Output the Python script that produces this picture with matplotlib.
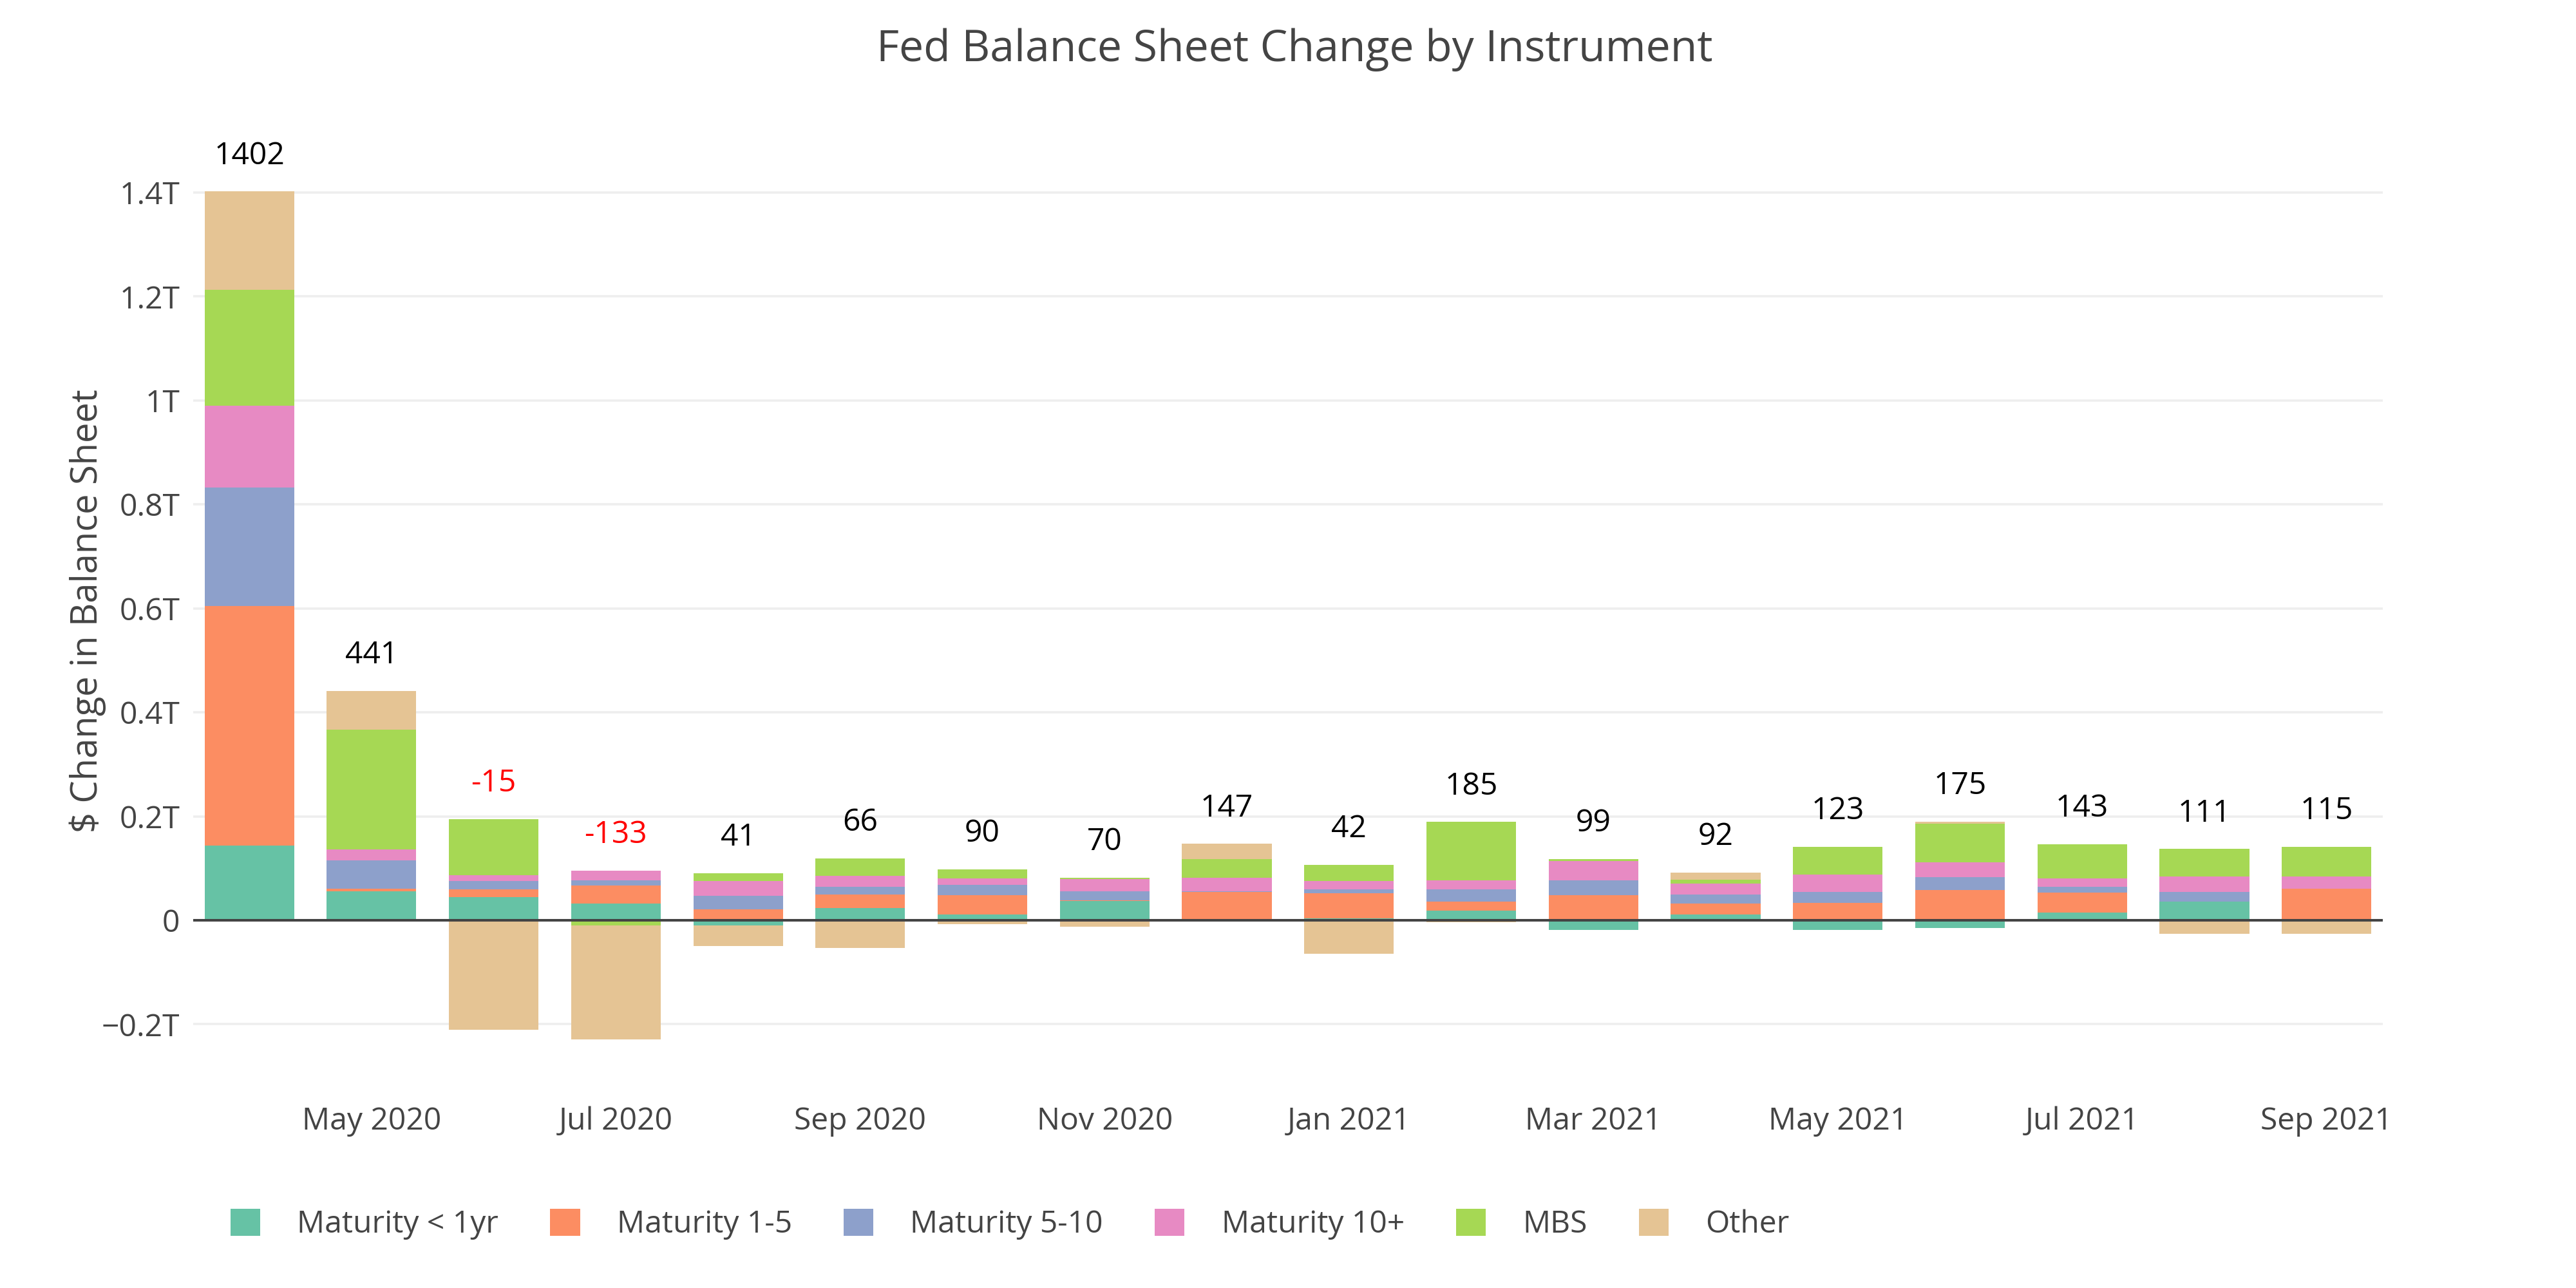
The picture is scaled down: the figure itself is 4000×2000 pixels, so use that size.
#!/usr/bin/env python
"""
Fed balance sheet change by instrument, stacked monthly bars
"""
import matplotlib
matplotlib.use("Agg")
import matplotlib.pyplot as plt
from matplotlib.patches import Patch
from matplotlib.ticker import FuncFormatter
import numpy as np

# monthly change, $ billions
months = ["Apr 2020", "May 2020", "Jun 2020", "Jul 2020", "Aug 2020", "Sep 2020",
          "Oct 2020", "Nov 2020", "Dec 2020", "Jan 2021", "Feb 2021", "Mar 2021",
          "Apr 2021", "May 2021", "Jun 2021", "Jul 2021", "Aug 2021", "Sep 2021"]

mat_lt1 = [144, 56, 44, 32, -10, 24, 11, 37, 1, 4, 19, -18, 11, -18, -15, 15, 36, 1]
mat_1_5 = [460, 5, 15, 35, 21, 25, 37, 2, 54, 48, 17, 48, 21, 34, 58, 38, -1, 60]
mat_5_10 = [229, 54, 16, 10, 26, 16, 20, 17, 1, 7, 24, 29, 17, 21, 25, 11, 19, 0]
mat_10p = [157, 21, 12, 19, 28, 21, 13, 23, 26, 17, 17, 37, 22, 33, 28, 17, 29, 23]
mbs = [223, 231, 108, -10, 16, 33, 17, 3, 36, 31, 112, 4, 7, 53, 75, 65, 53, 57]
other = [189, 74, -210, -219, -40, -53, -8, -12, 29, -65, -4, -1, 14, 0, 4, -3, -25, -26]

series_names = ["Maturity < 1yr", "Maturity 1-5", "Maturity 5-10", "Maturity 10+", "MBS", "Other"]
series_vals = [mat_lt1, mat_1_5, mat_5_10, mat_10p, mbs, other]
colors = ["#66c2a5", "#fc8d62", "#8da0cb", "#e78ac3", "#a6d854", "#e5c494"]

plt.rcParams["font.family"] = ["Open Sans", "DejaVu Sans"]
TXT = "#444444"

fig = plt.figure(figsize=(40, 20), dpi=100)
ax = fig.add_axes([0.075, 0.1511, 0.85, 0.7402])

x = np.arange(len(months))
pos = np.zeros(len(months))
neg = np.zeros(len(months))
for name, vals, c in zip(series_names, series_vals, colors):
    v = np.array(vals, dtype=float)
    bottom = np.where(v >= 0, pos, neg)
    ax.bar(x, v, bottom=bottom, width=0.733, color=c, linewidth=0, zorder=2)
    pos = pos + np.clip(v, 0, None)
    neg = neg + np.clip(v, None, 0)

# net change label above the positive part of each stack
totals = np.sum(np.array(series_vals), axis=0)
for i, t in enumerate(totals):
    ax.annotate(f"{int(t)}", (x[i], pos[i]), xytext=(0, 40), textcoords="offset points",
                ha="center", va="center", fontsize=34.6,
                color="black" if t >= 0 else "#ff0000")

ax.axhline(0, color=TXT, linewidth=2.9, zorder=3)

ax.set_xlim(-0.459, len(months) - 0.54)
ax.set_ylim(-333, 1501)
ax.set_yticks([-200, 0, 200, 400, 600, 800, 1000, 1200, 1400])


def fmt_t(v, _):
    if v == 0:
        return "0"
    s = f"{v / 1000:g}T"
    return s.replace("-", "\u2212")


ax.yaxis.set_major_formatter(FuncFormatter(fmt_t))
ax.set_xticks(x[1::2])
ax.set_xticklabels(months[1::2])
ax.tick_params(axis="both", length=0, labelsize=34.6, labelcolor=TXT)
ax.tick_params(axis="x", pad=14)
ax.tick_params(axis="y", pad=15)
ax.grid(axis="y", color="#eeeeee", linewidth=2.6, zorder=0)
ax.set_axisbelow(True)
for s in ax.spines.values():
    s.set_visible(False)

fig.text(0.5026, 0.9615, "Fed Balance Sheet Change by Instrument", ha="center", va="center",
         fontsize=49, color=TXT)
fig.text(0.034, 0.5255, "$ Change in Balance Sheet", ha="center", va="center",
         rotation=90, fontsize=40.3, color=TXT)

handles = [Patch(facecolor=c, edgecolor="none") for c in colors]
fig.legend(handles, series_names, loc="center left", bbox_to_anchor=(0.0895, 0.0495),
           ncol=6, frameon=False, fontsize=34.6, handlelength=0.96, handleheight=0.98,
           handletextpad=1.19, columnspacing=1.67, borderpad=0, borderaxespad=0,
           labelcolor=TXT)

fig.savefig("out.png", dpi=100, facecolor="white")
